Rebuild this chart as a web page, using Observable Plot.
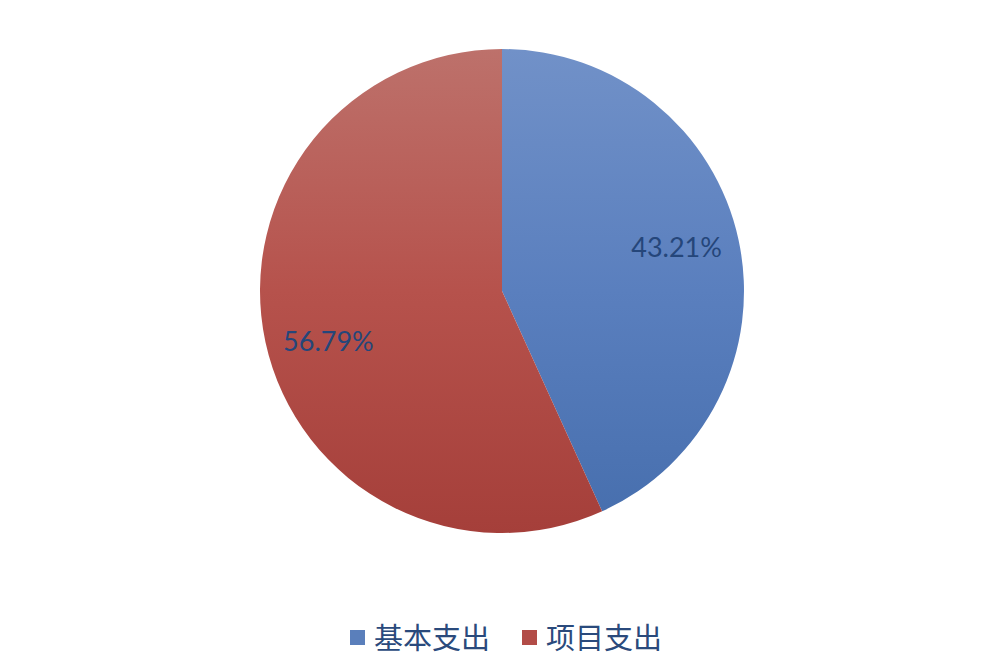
<!DOCTYPE html>
<html><head><meta charset="utf-8">
<script src="https://cdn.jsdelivr.net/npm/d3@7"></script>
<script src="https://cdn.jsdelivr.net/npm/@observablehq/plot@0.6"></script>
<style>
body{margin:0;background:#fff;}
#legend{display:flex;justify-content:center;align-items:center;height:52px;padding-left:20px;font-family:"Noto Sans CJK SC";font-size:29px;color:#2a4a7c;}
#legend .item{display:flex;align-items:center;margin:0 16px;}
#legend .sw{width:15px;height:15px;margin-right:9px;margin-top:3px;}
</style></head><body><div id="chart"></div><div id="legend"></div>
<script>
const categories = ["基本支出", "项目支出"];
const shares = [43.21, 56.79];
const labels = ["43.21%", "56.79%"];
const topColors = ["#7191c8", "#bd716b"];
const midColors = ["#5a7fbe", "#b6524c"];
const bottomColors = ["#466ead", "#a53f3a"];
const swatchColors = ["#5a7fbb", "#b24c47"];

const W = 992, H = 610, cx = 502, cy = 291, R = 242;
const data = categories.map((c, i) => ({category: c, share: shares[i], label: labels[i]}));
const arcs = d3.pie().sort(null).value(d => d.share).startAngle(0).endAngle(2 * Math.PI)(data);
const labelPos = arcs.map(a => {
  const t = (a.startAngle + a.endAngle) / 2 - 0.05;
  return {label: a.data.label, x: 0.745 * Math.sin(t), y: 0.745 * Math.cos(t)};
});

const pieMark = (index, scales) => {
  const g = d3.create("svg:g");
  const x0 = scales.x(0), y0 = scales.y(0), rp = scales.x(1) - scales.x(0);
  const defs = g.append("defs");
  arcs.forEach((a, i) => {
    const lg = defs.append("linearGradient").attr("id", "pg" + i)
      .attr("gradientUnits", "userSpaceOnUse")
      .attr("x1", 0).attr("x2", 0).attr("y1", -rp).attr("y2", rp);
    lg.append("stop").attr("offset", 0).attr("stop-color", topColors[i]);
    lg.append("stop").attr("offset", 0.5).attr("stop-color", midColors[i]);
    lg.append("stop").attr("offset", 1).attr("stop-color", bottomColors[i]);
  });
  g.selectAll("path").data(arcs).join("path")
    .attr("transform", `translate(${x0},${y0})`)
    .attr("d", d3.arc().innerRadius(0).outerRadius(rp))
    .attr("fill", (d, i) => `url(#pg${i})`);
  return g.node();
};

const chart = Plot.plot({
  width: W, height: H, margin: 0,
  x: {domain: [-1, 1], range: [cx - R, cx + R], axis: null},
  y: {domain: [-1, 1], range: [cy + R, cy - R], axis: null},
  marks: [
    pieMark,
    Plot.text(labelPos, {x: "x", y: "y", dy: 4, text: "label", fontSize: 27, fill: "#25467a",
      fontFamily: "Lato, 'Open Sans', sans-serif"})
  ]
});
document.getElementById("chart").appendChild(chart);

const legend = document.getElementById("legend");
categories.forEach((c, i) => {
  const item = document.createElement("div");
  item.className = "item";
  const sw = document.createElement("span");
  sw.className = "sw";
  sw.style.background = swatchColors[i];
  const t = document.createElement("span");
  t.textContent = c;
  item.appendChild(sw); item.appendChild(t);
  legend.appendChild(item);
});
</script></body></html>
